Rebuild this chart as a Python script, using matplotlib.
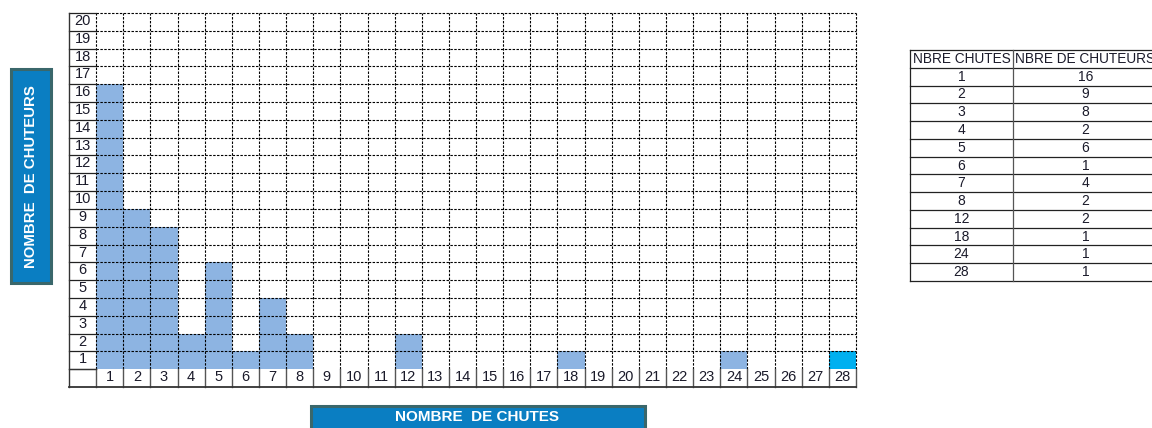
import numpy as np
import matplotlib
matplotlib.use('Agg')
from matplotlib import pyplot as plt
from matplotlib.patches import Rectangle

plt.rcParams['font.family'] = ['Liberation Sans', 'DejaVu Sans']

# data
nb_chutes = [1, 2, 3, 4, 5, 6, 7, 8, 12, 18, 24, 28]
nb_chuteurs = [16, 9, 8, 2, 6, 1, 4, 2, 2, 1, 1, 1]
x_ticks = list(range(1, 29))
y_ticks = list(range(1, 21))
header = ['NBRE CHUTES', 'NBRE DE CHUTEURS']

W, H = 1152, 428
BAR = '#8DB4E2'
LAST = '#00B0F0'
BOX = '#0A7EC2'
BOX_EDGE = '#3A676B'
TXT = '#1a1a2a'


def fx(px):
    return px / W


def fy(py):
    return 1 - py / H


fig = plt.figure(figsize=(W / 100, H / 100), dpi=100)

# grid chart
x0, x1, y0, y1 = 69, 856, 13, 387
ax = fig.add_axes([fx(x0), fy(y1), fx(x1 - x0), (y1 - y0) / H])
ax.set_xlim(-1, len(x_ticks))
ax.set_ylim(-1, len(y_ticks))
ax.axis('off')

colors = [LAST if c == max(nb_chutes) else BAR for c in nb_chutes]
ax.bar([c - 1 for c in nb_chutes], nb_chuteurs, width=1, align='edge',
       color=colors, linewidth=0, zorder=1)

dash = (0, (2.2, 1.3))
for i in range(0, len(x_ticks) + 1):
    ax.plot([i, i], [0, len(y_ticks)], color='black', lw=0.8, ls=dash, zorder=2,
            clip_on=False)
for j in range(1, len(y_ticks) + 1):
    ax.plot([0, len(x_ticks)], [j, j], color='black', lw=0.8, ls=dash, zorder=2,
            clip_on=False)

# label column and row, solid borders
for j in range(0, len(y_ticks) + 1):
    ax.plot([-1, 0], [j, j], color='#222222', lw=0.9, zorder=3, clip_on=False)
for i in range(0, len(x_ticks) + 1):
    ax.plot([i, i], [-1, 0], color='#555555', lw=1.0, zorder=3, clip_on=False)
ax.plot([-1, -1], [-1, len(y_ticks)], color='#333333', lw=1.0, zorder=3, clip_on=False)
ax.plot([-1, len(x_ticks)], [-1, -1], color='#333333', lw=1.3, zorder=3, clip_on=False)
ax.plot([-1, 0], [0, 0], color='#333333', lw=0.9, zorder=3, clip_on=False)

for v in y_ticks:
    ax.text(-0.5, v - 0.45, str(v), ha='center', va='center', fontsize=10.5, color=TXT)
for v in x_ticks:
    ax.text(v - 0.5, -0.45, str(v), ha='center', va='center', fontsize=10.5, color=TXT)

# axis title boxes
fig.patches.append(Rectangle((fx(11), fy(283)), fx(40), (283 - 69) / H,
                             transform=fig.transFigure, facecolor=BOX,
                             edgecolor=BOX_EDGE, lw=2.2))
fig.text(fx(31), fy(177), 'NOMBRE  DE CHUTEURS', rotation=90, ha='center',
         va='center', color='white', fontsize=10.8, fontweight='bold')
fig.patches.append(Rectangle((fx(311), fy(432)), fx(334), (432 - 406) / H,
                             transform=fig.transFigure, facecolor=BOX,
                             edgecolor=BOX_EDGE, lw=2.2))
fig.text(fx(477), fy(417), 'NOMBRE  DE CHUTES', ha='center', va='center',
         color='white', fontsize=11, fontweight='bold')

# table
tx0, tx1, ty0, ty1 = 910, 1165, 50, 281
tab = fig.add_axes([fx(tx0), fy(ty1), fx(tx1 - tx0), (ty1 - ty0) / H])
nrows = len(nb_chutes) + 1
tab.set_xlim(0, tx1 - tx0)
tab.set_ylim(nrows, 0)
tab.axis('off')
col_split = 1013 - tx0
for r in range(nrows + 1):
    tab.plot([0, tx1 - tx0], [r, r], color='#222222', lw=0.9, clip_on=False)
tab.plot([0, 0], [0, nrows], color='#222222', lw=0.9, clip_on=False)
tab.plot([col_split, col_split], [0, nrows], color='#555555', lw=0.9, clip_on=False)
tab.text(col_split / 2, 0.5, header[0], ha='center', va='center', fontsize=9.8, color=TXT)
tab.text(col_split + 2, 0.5, header[1], ha='left', va='center', fontsize=9.8, color=TXT)
col2_mid = (col_split + 1152 - tx0) / 2 + 3
for r, (a, b) in enumerate(zip(nb_chutes, nb_chuteurs), start=1):
    tab.text(col_split / 2, r + 0.5, str(a), ha='center', va='center', fontsize=10, color=TXT)
    tab.text(col2_mid, r + 0.5, str(b), ha='center', va='center', fontsize=10, color=TXT)

fig.savefig('out.png', dpi=100)
